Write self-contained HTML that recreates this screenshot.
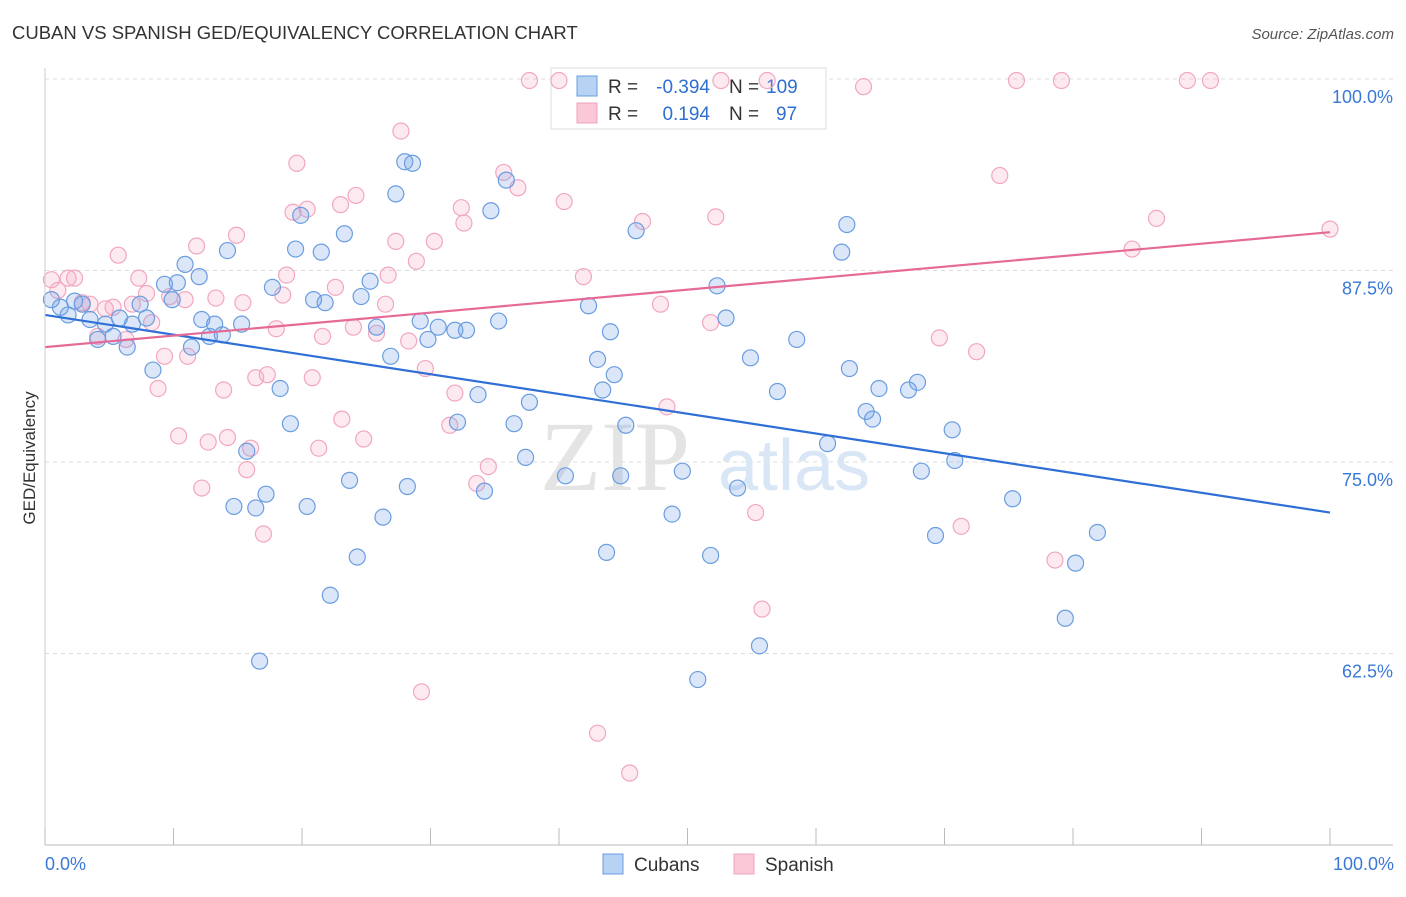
<!DOCTYPE html>
<html><head><meta charset="utf-8"><style>
body{margin:0;background:#fff;font-family:"Liberation Sans",sans-serif}
</style></head><body>
<svg width="1406" height="892" xmlns="http://www.w3.org/2000/svg">
<text x="12" y="39" font-size="18.5" fill="#333">CUBAN VS SPANISH GED/EQUIVALENCY CORRELATION CHART</text>
<text x="1394" y="39" font-size="15" fill="#555" font-style="italic" text-anchor="end">Source: ZipAtlas.com</text>
<g id="grid"></g>
<text x="690" y="490" font-size="100" fill="#e4e4e4" text-anchor="end" font-family="Liberation Serif">ZIP</text>
<text x="718" y="490" font-size="72" fill="#d8e6f6">atlas</text>
<g>
<rect x="551" y="68" width="275" height="61" fill="#fff" stroke="#ddd"/>
<rect x="577" y="76" width="20" height="20" fill="#b8d2f4" stroke="#6a9de0"/>
<rect x="577" y="103" width="20" height="20" fill="#fbc8d8" stroke="#f0a0bd"/>
<text x="608" y="93" font-size="19" fill="#333">R =</text>
<text x="710" y="93" font-size="19" fill="#2f6fd0" text-anchor="end">-0.394</text>
<text x="729" y="93" font-size="19" fill="#333">N =</text>
<text x="766" y="93" font-size="19" fill="#2f6fd0">109</text>
<text x="608" y="120" font-size="19" fill="#333">R =</text>
<text x="710" y="120" font-size="19" fill="#2f6fd0" text-anchor="end">0.194</text>
<text x="729" y="120" font-size="19" fill="#333">N =</text>
<text x="776" y="120" font-size="19" fill="#2f6fd0">97</text>
</g>
<g id="pts"></g>
<g id="axes"></g>
<text x="35" y="458" font-size="17" fill="#333" text-anchor="middle" transform="rotate(-90 35 458)">GED/Equivalency</text>
<g>
<rect x="603" y="854" width="20" height="20" fill="#b8d2f4" stroke="#6a9de0"/>
<text x="634" y="871" font-size="19" fill="#333">Cubans</text>
<rect x="734" y="854" width="20" height="20" fill="#fbc8d8" stroke="#f0a0bd"/>
<text x="765" y="871" font-size="19" fill="#333">Spanish</text>
</g>
</svg>
<script>
const yTicks=[100,87.5,75,62.5];
const yTickLabels=["100.0%","87.5%","75.0%","62.5%"];
const xTickLabels=["0.0%","100.0%"];
const cubanX=[0.5,1.2,1.8,2.3,2.9,3.5,4.1,4.7,5.3,5.8,6.4,6.8,7.4,7.9,8.4,9.3,9.9,10.3,10.9,11.4,12.0,12.2,12.8,13.2,13.8,14.2,15.3,15.7,14.7,16.4,16.7,17.2,17.7,18.3,19.1,19.5,19.9,20.4,20.9,21.5,21.8,22.2,23.3,23.7,24.3,24.6,25.3,25.8,26.3,26.9,27.3,28.0,28.6,28.2,29.2,29.8,30.6,31.9,32.1,32.8,33.7,34.2,34.7,35.3,35.9,36.5,37.4,37.7,40.5,42.3,43.0,43.4,43.7,44.0,44.3,44.8,45.2,46.0,48.8,49.6,50.8,51.8,52.3,53.0,53.9,54.9,55.6,57.0,58.5,60.9,62.0,62.4,62.6,63.9,64.4,64.9,67.2,67.9,68.2,69.3,70.6,70.8,75.3,79.4,80.2,81.9];
const cubanY=[85.6,85.1,84.6,85.5,85.3,84.3,83.0,84.0,83.2,84.4,82.5,84.0,85.3,84.4,81.0,86.6,85.6,86.7,87.9,82.5,87.1,84.3,83.2,84.0,83.3,88.8,84.0,75.7,72.1,72.0,62.0,72.9,86.4,79.8,77.5,88.9,91.1,72.1,85.6,88.7,85.4,66.3,89.9,73.8,68.8,85.8,86.8,83.8,71.4,81.9,92.5,94.6,94.5,73.4,84.2,83.0,83.8,83.6,77.6,83.6,79.4,73.1,91.4,84.2,93.4,77.5,75.3,78.9,74.1,85.2,81.7,79.7,69.1,83.5,80.7,74.1,77.4,90.1,71.6,74.4,60.8,68.9,86.5,84.4,73.3,81.8,63.0,79.6,83.0,76.2,88.7,90.5,81.1,78.3,77.8,79.8,79.7,80.2,74.4,70.2,77.1,75.1,72.6,64.8,68.4,70.4];
const spanishX=[0.5,1.0,1.8,2.3,2.9,3.5,4.1,4.7,5.3,5.7,6.3,6.8,7.3,7.9,8.3,8.8,9.3,9.7,10.4,10.9,11.1,11.8,12.2,12.7,13.3,13.9,14.2,14.9,15.4,15.7,16.0,16.4,17.0,17.3,18.0,18.5,18.8,19.6,19.3,20.4,20.8,21.3,21.6,22.6,23.0,23.1,24.0,24.2,24.8,25.8,26.5,26.7,27.3,27.7,28.3,28.9,29.3,29.6,30.3,31.5,32.4,32.6,31.9,33.6,34.5,35.7,36.8,37.7,40.0,40.4,41.9,43.0,45.5,46.5,47.9,48.4,51.8,52.2,52.6,55.3,55.8,56.2,63.7,69.6,71.3,72.5,74.3,75.6,78.6,79.1,84.6,86.5,88.9,90.7,100.0];
const spanishY=[86.9,86.2,87.0,87.0,85.4,85.3,83.2,85.0,85.1,88.5,83.0,85.3,87.0,86.0,84.1,79.8,81.9,85.8,76.7,85.6,81.9,89.1,73.3,76.3,85.7,79.7,76.6,89.8,85.4,74.5,75.9,80.5,70.3,80.7,83.7,85.9,87.2,94.5,91.3,91.5,80.5,75.9,83.2,86.4,91.8,77.8,83.8,92.4,76.5,83.4,85.3,87.2,89.4,96.6,82.9,88.1,60.0,81.1,89.4,77.4,91.6,90.6,79.5,73.6,74.7,93.9,92.9,99.9,99.9,92.0,87.1,57.3,54.7,90.7,85.3,78.6,84.1,91.0,99.9,71.7,65.4,99.9,99.5,83.1,70.8,82.2,93.7,99.9,68.6,99.9,88.9,90.9,99.9,99.9,90.2];
const cubanTrend=[84.6,71.7];
const spanishTrend=[82.5,90.0];
const NS="http://www.w3.org/2000/svg";
const X0=45,X1=1330,YT=79,YB=845,YMIN=50,YMAX=100;
const xs=v=>X0+(X1-X0)*v/100;
const ys=v=>YT+(YMAX-v)/(YMAX-YMIN)*(YB-YT);
function mk(t,a,p){const e=document.createElementNS(NS,t);for(const k in a)e.setAttribute(k,a[k]);p.appendChild(e);return e;}
const grid=document.getElementById('grid'),axes=document.getElementById('axes'),pts=document.getElementById('pts');
yTicks.forEach((v,i)=>{
 const l=mk('line',{x1:X0,x2:1393,y1:ys(v),y2:ys(v),stroke:'#dcdcdc','stroke-dasharray':'4,4'},grid);
 
 
 const t=mk('text',{x:1393,y:ys(v)+24,'font-size':18,fill:'#3a78d8','text-anchor':'end'},axes);
 t.textContent=yTickLabels[i];
 
 
});
const ax=mk('line',{x1:X0,x2:1393,y1:YB,y2:YB,stroke:'#bbb'},axes);


const ay=mk('line',{x1:X0,x2:X0,y1:68,y2:YB,stroke:'#ccc'},axes);


for(let i=0;i<=10;i++){
 const tk=mk('line',{x1:xs(i*10),x2:xs(i*10),y1:YB,y2:YB-17,stroke:'#bbb'},axes);
 
 
}
[[0,'start',X0],[1,'end',1394]].forEach(([i,a,x])=>{
 const t=mk('text',{x:x,y:870,'font-size':18,fill:'#3a78d8','text-anchor':a},axes);
 t.textContent=xTickLabels[i];
 
 
});
function series(X,Y,fill,stroke,name){
 X.forEach((x,i)=>{
  const c=mk('circle',{cx:xs(x),cy:ys(Y[i]),r:8,fill:fill,stroke:stroke,'stroke-width':1.2},pts);
  
  
 });
}
series(spanishX,spanishY,'rgba(245,160,190,0.22)','#f2a6c0','spanish');
series(cubanX,cubanY,'rgba(110,160,230,0.25)','#6a9de0','cuban');
const bl=mk('line',{x1:xs(0),y1:ys(cubanTrend[0]),x2:xs(100),y2:ys(cubanTrend[1]),stroke:'#2f6fd6','stroke-width':2.2},pts);


const pl=mk('line',{x1:xs(0),y1:ys(spanishTrend[0]),x2:xs(100),y2:ys(spanishTrend[1]),stroke:'#e66a98','stroke-width':2.2},pts);


</script>
</body></html>
